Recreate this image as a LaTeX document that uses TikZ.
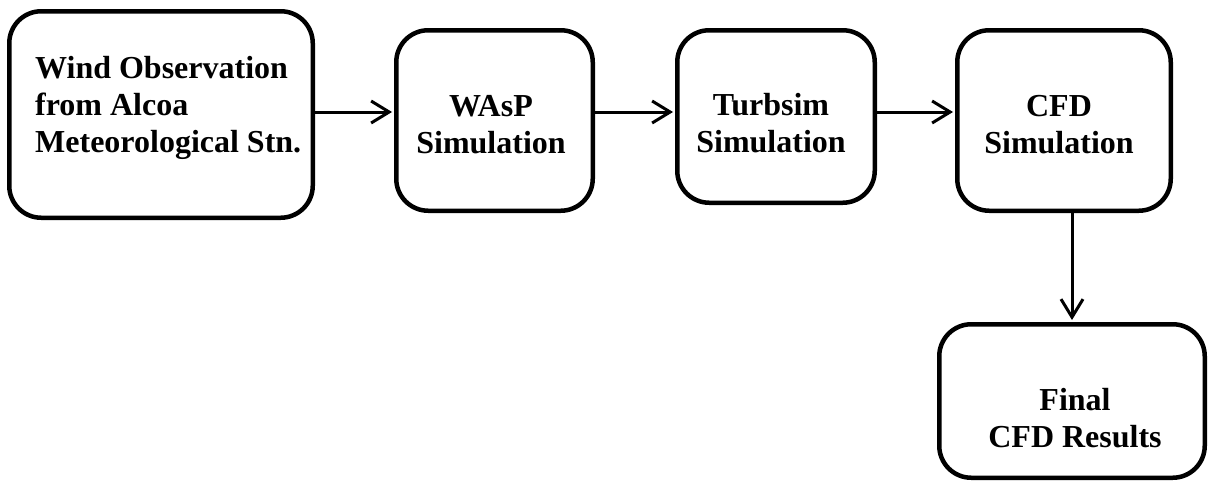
\documentclass[tikz,border=0pt]{standalone}
\usepackage{fontspec}
\setmainfont{Liberation Serif}
\usetikzlibrary{positioning,arrows.meta}

\begin{document}
\begin{tikzpicture}[x=1pt,y=-1pt,
  box/.style={draw,line width=4.5pt,rounded corners=32pt,inner sep=0pt},
  txt/.style={font=\fontsize{32}{37}\selectfont\bfseries,inner sep=0pt,align=center,anchor=base},
  flow/.style={line width=3pt,shorten >=2pt,-{Straight Barb[length=18pt,width=22pt]}}]
\useasboundingbox (0,0) rectangle (1210,482);

% boxes
\node[box,minimum width=303.5pt,minimum height=206.5pt] (obs) at (161,114.5) {};
\node[box,minimum width=196.5pt,minimum height=180.5pt] (wasp) at (494.5,120.5) {};
\node[box,minimum width=197.5pt,minimum height=172.5pt] (turb) at (776,116.5) {};
\node[box,minimum width=213.5pt,minimum height=180.5pt] (cfd) at (1064,120.5) {};
\node[box,minimum width=265.5pt,minimum height=153.5pt] (final) at (1072,401) {};

% texts (base = last line)
\node[txt,align=left,anchor=base west] (obstxt) at (35,152) {Wind Observation\\from Alcoa\\Meteorological Stn.};
\node[txt] (wasptxt) at (491,153) {WAsP\\Simulation};
\node[txt] (turbtxt) at (771,152) {Turbsim\\Simulation};
\node[txt] (cfdtxt) at (1059,153) {CFD\\Simulation};
\node[txt] (finaltxt) at (1075,447) {Final\\CFD Results};

% flow
\coordinate (row) at (0,112);
\draw[flow] (obs.east |- row) -- (wasp.west |- row);
\draw[flow] (wasp.east |- row) -- (turb.west |- row);
\draw[flow] (turb.east |- row) -- (cfd.west |- row);
\draw[flow] (final.north |- cfd.south) -- (final.north);

\end{tikzpicture}
\end{document}
